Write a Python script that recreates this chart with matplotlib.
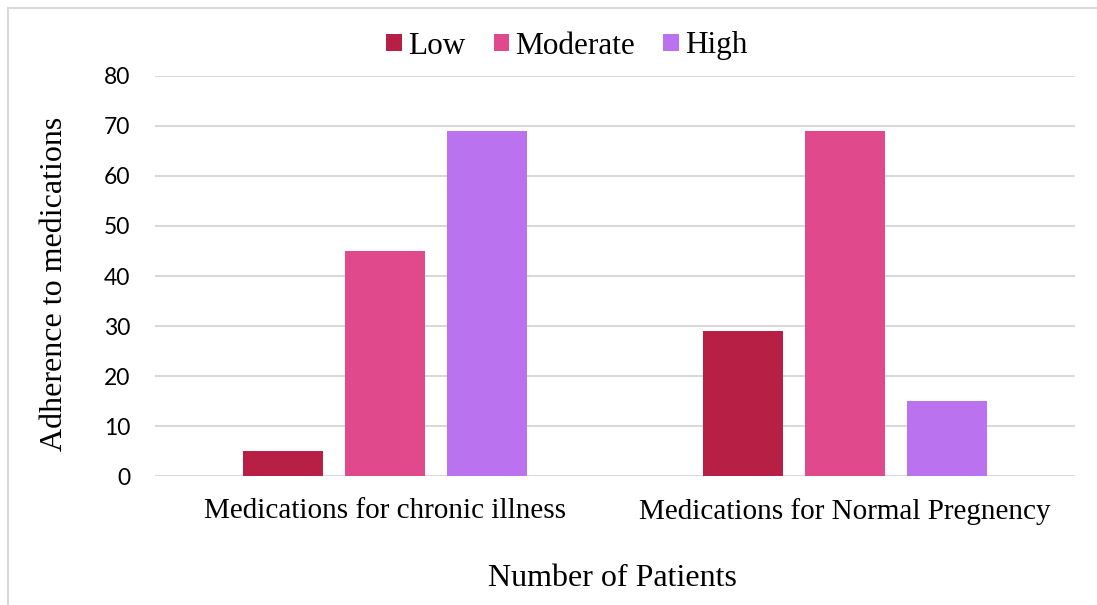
import matplotlib.pyplot as plt
import numpy as np
from matplotlib.patches import Rectangle

categories = ["Medications for chronic illness", "Medications for Normal Pregnency"]
series_names = ["Low", "Moderate", "High"]
low = [5, 29]
moderate = [45, 69]
high = [69, 15]
colors = ["#B71F44", "#E0498C", "#BB72EE"]

serif = "Liberation Serif"
sans = "Lato"

fig = plt.figure(figsize=(10.97, 6.05), dpi=100)
ax = fig.add_axes([0.1413, 0.2132, 0.8389, 0.6612])

x = np.arange(len(categories))
width = 0.174
offset = 0.222
for i, (vals, name) in enumerate(zip([low, moderate, high], series_names)):
    ax.bar(x + (i - 1) * offset, vals, width, color=colors[i], label=name, zorder=3)

ax.set_xlim(-0.5, 1.5)
ax.set_ylim(0, 80)
ax.set_yticks(range(0, 81, 10))
ax.yaxis.grid(True, color="#D9D9D9", linewidth=1.5, zorder=0)
ax.set_axisbelow(True)
for s in ax.spines.values():
    s.set_visible(False)
ax.tick_params(length=0)
ax.tick_params(axis="y", labelsize=16.5, pad=18)
for lbl in ax.get_yticklabels():
    lbl.set_fontfamily(sans)
ax.set_xticks(x)
ax.set_xticklabels(categories, fontfamily=serif, fontsize=21)
ax.tick_params(axis="x", pad=16)

ax.set_ylabel("Adherence to medications", fontfamily=serif, fontsize=23)
ax.yaxis.set_label_coords(-0.109, 0.48)
ax.yaxis.label.set_va("center")
ax.set_xlabel("Number of Patients", fontfamily=serif, fontsize=23)
ax.xaxis.set_label_coords(0.497, -0.255)
ax.xaxis.label.set_va("center")

leg = fig.legend(loc="center", bbox_to_anchor=(567 / 1097, 1 - 46 / 605), ncol=3, frameon=False,
                 prop={"family": serif, "size": 22.5}, handlelength=0.5, handleheight=0.5,
                 handletextpad=0.2, columnspacing=0.9)

fig.patches.append(Rectangle((8 / 1097, -0.1), 1.2, 1.1 - 8 / 605, transform=fig.transFigure,
                             fill=False, edgecolor="#D9D9D9", linewidth=1.5))

fig.savefig("out.png", dpi=100)
